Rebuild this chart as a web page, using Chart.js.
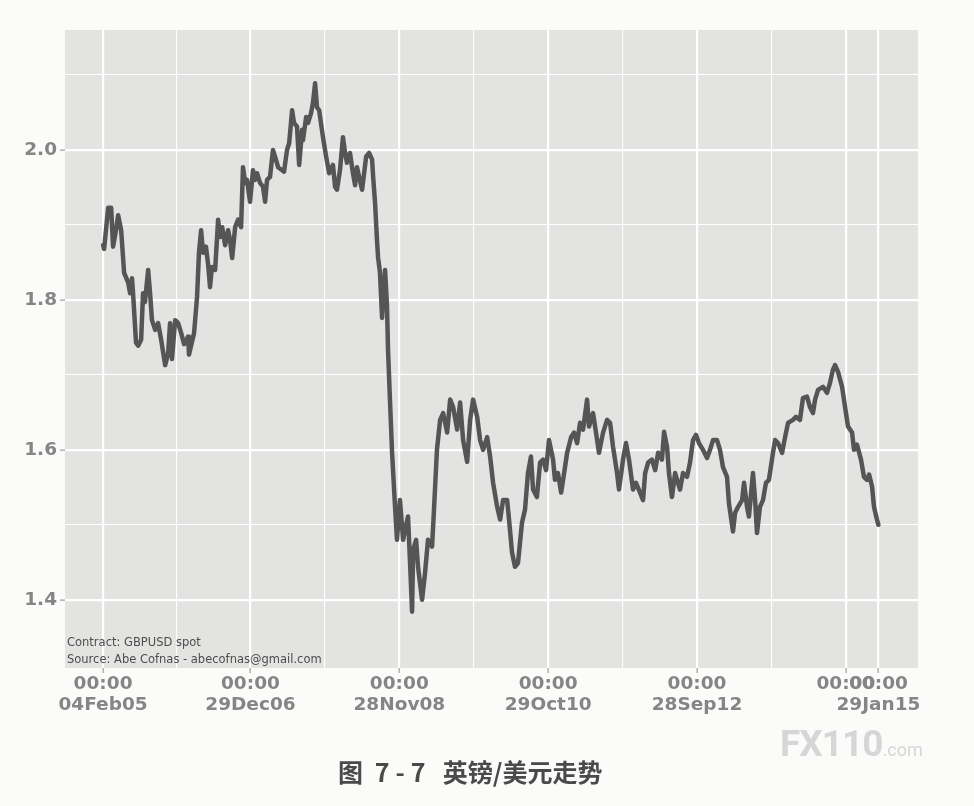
<!DOCTYPE html>
<html>
<head>
<meta charset="utf-8">
<script src="https://cdn.jsdelivr.net/npm/chart.js@4.4.0/dist/chart.umd.min.js"></script>
<style>
  html, body { margin: 0; padding: 0; background: #fbfbfa; }
  #wrap { position: relative; width: 974px; height: 806px; overflow: hidden; }
  canvas { position: absolute; left: 0; top: 0; }
  #title { position: absolute; left: 338px; top: 755px; font-family: "Noto Sans CJK SC", sans-serif; font-weight: 700; font-size: 25px; line-height: 32px; color: #4a4a4a; white-space: pre; }
  #title .num { letter-spacing: 6px; }
  #wm { position: absolute; left: 780px; top: 722px; font-family: Roboto, "Liberation Sans", sans-serif; color: #d6d6d6; white-space: pre; }
  #wm .big { font-size: 37px; font-weight: 700; letter-spacing: -1px; }
  #wm .small { font-size: 18px; }
</style>
</head>
<body>
<div id="wrap">
  <canvas id="c" width="974" height="806"></canvas>
  <div id="title">图<span class="num"> 7-7</span>  英镑/美元走势</div>
  <div id="wm"><span class="big">FX110</span><span class="small">.com</span></div>
</div>
<script>
// ---- data (GBP/USD spot), x = days since 04 Feb 2005 ----
const startDate = "2005-02-04";
const days = [0,5,24,38,47,61,71,85,99,118,127,136,141,155,165,179,188,197,212,221,230,245,259,273,292,306,315,324,339,353,367,381,400,404,418,428,442,451,461,470,484,494,503,512,527,541,550,560,574,588,597,607,621,635,649,658,668,677,691,705,715,724,738,752,762,771,785,799,813,823,842,851,865,875,889,898,912,922,936,940,955,964,978,987,997,1006,1016,1034,1049,1063,1081,1091,1100,1114,1128,1138,1147,1161,1175,1185,1194,1204,1218,1237,1251,1265,1270,1279,1288,1293,1302,1312,1326,1335,1340,1349,1359,1373,1382,1396,1411,1420,1434,1443,1453,1458,1472,1481,1500,1514,1528,1547,1556,1570,1585,1599,1618,1632,1646,1665,1679,1693,1712,1726,1740,1759,1773,1787,1806,1820,1834,1853,1867,1881,1900,1909,1923,1937,1951,1970,1984,1998,2012,2022,2040,2055,2069,2083,2097,2116,2125,2139,2154,2168,2182,2201,2215,2229,2243,2257,2276,2285,2304,2318,2332,2351,2370,2384,2398,2417,2426,2445,2459,2473,2492,2506,2525,2539,2549,2563,2581,2596,2610,2628,2638,2652,2661,2675,2690,2699,2713,2727,2746,2760,2774,2788,2802,2821,2840,2854,2868,2887,2901,2915,2934,2943,2962,2972,2986,3005,3014,3028,3037,3056,3066,3075,3089,3103,3117,3131,3150,3160,3174,3193,3207,3221,3244,3258,3277,3291,3310,3324,3338,3348,3362,3385,3404,3418,3432,3442,3456,3475,3489,3503,3522,3531,3545,3564,3578,3592,3602,3616,3625,3639,3646];
const gbpusd = [1.873,1.868,1.923,1.923,1.871,1.893,1.913,1.893,1.836,1.823,1.809,1.829,1.809,1.743,1.739,1.747,1.809,1.797,1.840,1.809,1.773,1.760,1.769,1.747,1.713,1.729,1.769,1.721,1.773,1.769,1.756,1.741,1.751,1.727,1.744,1.756,1.804,1.863,1.893,1.863,1.871,1.847,1.817,1.844,1.840,1.907,1.884,1.897,1.873,1.893,1.880,1.856,1.897,1.907,1.897,1.977,1.956,1.960,1.931,1.973,1.960,1.969,1.956,1.951,1.931,1.960,1.964,2.000,1.987,1.977,1.973,1.971,2.000,2.009,2.053,2.036,2.031,1.980,2.027,2.013,2.044,2.036,2.049,2.063,2.089,2.057,2.053,2.017,1.991,1.969,1.980,1.951,1.947,1.973,2.017,1.996,1.983,1.996,1.969,1.953,1.977,1.964,1.947,1.991,1.996,1.987,1.964,1.929,1.880,1.857,1.837,1.776,1.840,1.793,1.733,1.667,1.596,1.524,1.480,1.533,1.480,1.493,1.511,1.453,1.384,1.467,1.480,1.444,1.400,1.436,1.480,1.471,1.520,1.600,1.640,1.649,1.623,1.667,1.657,1.627,1.663,1.613,1.584,1.640,1.667,1.644,1.613,1.600,1.617,1.591,1.556,1.524,1.507,1.533,1.533,1.507,1.463,1.444,1.449,1.503,1.520,1.569,1.591,1.547,1.537,1.583,1.587,1.573,1.613,1.587,1.560,1.569,1.543,1.569,1.596,1.617,1.623,1.609,1.636,1.627,1.667,1.631,1.649,1.623,1.596,1.623,1.640,1.636,1.604,1.569,1.547,1.587,1.609,1.587,1.547,1.556,1.543,1.533,1.569,1.583,1.587,1.573,1.596,1.587,1.624,1.604,1.569,1.537,1.569,1.560,1.547,1.569,1.564,1.583,1.613,1.620,1.609,1.600,1.589,1.600,1.613,1.613,1.600,1.577,1.564,1.529,1.491,1.516,1.524,1.533,1.556,1.524,1.511,1.569,1.533,1.489,1.524,1.533,1.556,1.560,1.596,1.613,1.609,1.596,1.617,1.636,1.640,1.644,1.640,1.669,1.671,1.657,1.649,1.667,1.680,1.684,1.676,1.689,1.707,1.713,1.704,1.684,1.657,1.631,1.623,1.600,1.607,1.587,1.564,1.560,1.567,1.551,1.524,1.507,1.500];

// axis ticks
const xMajorDays = [0, 693, 1393, 2093, 2793, 3493, 3646];
const xMajorLabels = [["00:00","04Feb05"],["00:00","29Dec06"],["00:00","28Nov08"],["00:00","29Oct10"],["00:00","28Sep12"],["00:00",""],["00:00","29Jan15"]];
const xMinorDays = [346, 1043, 1743, 2443, 3143];
const yMajor = [1.4, 1.6, 1.8, 2.0];
const yMinor = [1.5, 1.7, 1.9, 2.1];
const yRange = [1.309, 2.16];
const xRange = [-179, 3832];
const notes = ["Contract: GBPUSD spot", "Source: Abe Cofnas - abecofnas@gmail.com"];

const isMajorX = v => xMajorDays.some(d => Math.abs(d - v) < 0.5);
const isMajorY = v => yMajor.some(d => Math.abs(d - v) < 1e-6);

const panelPlugin = {
  id: 'panel',
  beforeDraw(chart) {
    const { ctx, chartArea: a } = chart;
    ctx.save();
    ctx.fillStyle = '#e3e3e2';
    ctx.fillRect(a.left, a.top, a.right - a.left, a.bottom - a.top);
    ctx.restore();
  },
  afterDraw(chart) {
    const { ctx, chartArea: a } = chart;
    ctx.save();
    ctx.fillStyle = '#4d4d4d';
    ctx.font = '11.5px "DejaVu Sans", sans-serif';
    ctx.textBaseline = 'alphabetic';
    ctx.fillText(notes[0], a.left + 2, a.bottom - 22);
    ctx.fillText(notes[1], a.left + 2, a.bottom - 5);
    ctx.restore();
  }
};

const pts = days.map((d, i) => ({ x: d, y: gbpusd[i] }));

new Chart(document.getElementById('c'), {
  type: 'line',
  data: {
    datasets: [{
      data: pts,
      borderColor: '#555555',
      borderWidth: 4.5,
      pointRadius: 0,
      tension: 0,
      borderJoinStyle: 'round',
      borderCapStyle: 'round'
    }]
  },
  options: {
    responsive: false,
    animation: false,
    devicePixelRatio: 1,
    layout: { padding: { top: 30, right: 56, left: 0, bottom: 0 } },
    plugins: { legend: { display: false }, tooltip: { enabled: false }, title: { display: false } },
    scales: {
      x: {
        type: 'linear',
        min: xRange[0], max: xRange[1],
        afterBuildTicks: ax => {
          ax.ticks = [...xMajorDays, ...xMinorDays].sort((a, b) => a - b).map(v => ({ value: v }));
        },
        afterFit: ax => { ax.height = 138; },
        border: { display: false },
        grid: {
          color: '#ffffff',
          lineWidth: c => isMajorX(c.tick.value) ? 2.2 : 1.1,
          tickColor: c => isMajorX(c.tick.value) ? '#8a8a8a' : 'rgba(0,0,0,0)',
          tickLength: 5,
          tickWidth: 1
        },
        ticks: {
          autoSkip: false, maxRotation: 0, minRotation: 0, padding: 1,
          color: '#858585',
          font: { family: '"DejaVu Sans", sans-serif', weight: 'bold', size: 18.5, lineHeight: 1.12 },
          callback: v => {
            const i = xMajorDays.findIndex(d => Math.abs(d - v) < 0.5);
            return i >= 0 ? xMajorLabels[i] : '';
          }
        }
      },
      y: {
        type: 'linear',
        min: yRange[0], max: yRange[1],
        afterBuildTicks: ax => {
          ax.ticks = [...yMajor, ...yMinor].sort((a, b) => a - b).map(v => ({ value: v }));
        },
        afterFit: ax => { ax.width = 65; },
        border: { display: false },
        grid: {
          color: '#ffffff',
          lineWidth: c => isMajorY(c.tick.value) ? 2.2 : 1.1,
          tickColor: c => isMajorY(c.tick.value) ? '#8a8a8a' : 'rgba(0,0,0,0)',
          tickLength: 5,
          tickWidth: 1
        },
        ticks: {
          padding: 3,
          color: '#858585',
          font: { family: '"DejaVu Sans", sans-serif', weight: 'bold', size: 18.5 },
          callback: v => isMajorY(v) ? v.toFixed(1) : ''
        }
      }
    }
  },
  plugins: [panelPlugin]
});
</script>
</body>
</html>
